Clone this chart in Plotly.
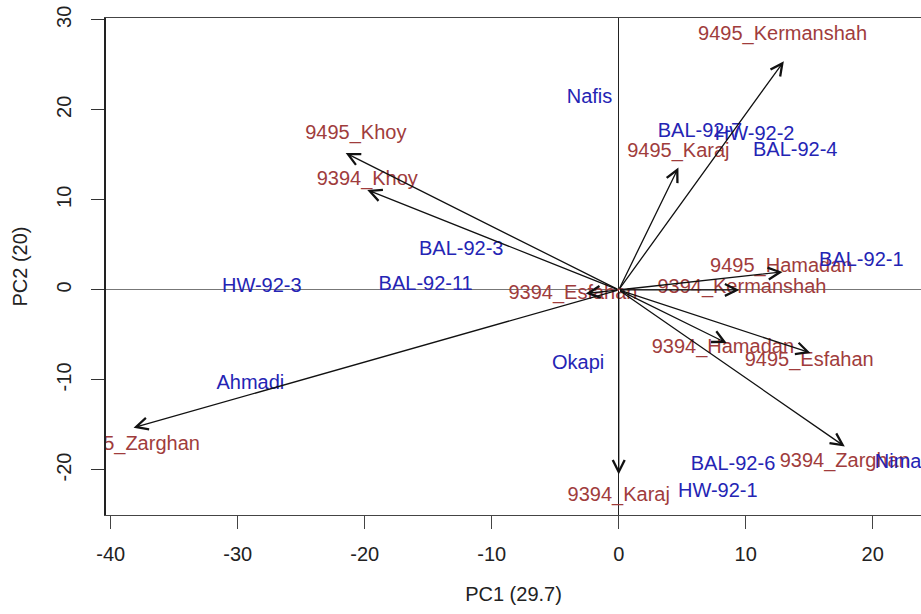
import plotly.graph_objects as go

# Environment vectors (arrow tips) and their label positions
env_names = ["9495_Kermanshah", "9495_Karaj", "9495_Khoy", "9394_Khoy", "9495_Zarghan",
             "9394_Karaj", "9394_Zarghan", "9495_Esfahan", "9394_Hamadan", "9495_Hamadan",
             "9394_Kermanshah", "9394_Esfahan"]
env_x = [13.0, 4.7, -21.5, -19.8, -38.2, 0.0, 17.8, 15.1, 8.5, 12.9, 9.5, -2.6]
env_y = [25.4, 13.6, 15.2, 11.1, -15.3, -20.5, -17.4, -7.0, -5.9, 2.0, 0.0, -0.4]
env_lab_x = [12.9, 4.7, -20.7, -19.8, -38.1, 0.0, 17.8, 15.0, 8.2, 12.8, 9.7, -3.6]
env_lab_y = [28.3, 15.3, 17.3, 12.2, -17.2, -22.9, -19.1, -7.9, -6.5, 2.5, 0.2, -0.5]

# Genotype scores
gen_names = ["Nafis", "BAL-92-7", "HW-92-2", "BAL-92-4", "BAL-92-3", "BAL-92-11", "HW-92-3",
             "Ahmadi", "Okapi", "BAL-92-6", "HW-92-1", "Nima", "BAL-92-1"]
gen_x = [-2.3, 6.4, 10.7, 13.9, -12.4, -15.2, -28.1, -29.0, -3.2, 9.0, 7.8, 22.0, 19.1]
gen_y = [21.3, 17.5, 17.2, 15.4, 4.4, 0.6, 0.3, -10.5, -8.2, -19.5, -22.5, -19.2, 3.2]

x_ticks = [-40, -30, -20, -10, 0, 10, 20]
x_tick_labels = ["-40", "-30", "-20", "-10", "0", "10", "20"]
y_ticks = [-20, -10, 0, 10, 20, 30]
y_tick_labels = ["-20", "-10", "0", "10", "20", "30"]

FONT = "Liberation Sans, Arial, sans-serif"
RED = "#A03C3C"
BLUE = "#2424B4"
FS = 20

fig = go.Figure()

fig.add_trace(go.Scatter(
    x=env_lab_x, y=env_lab_y, text=env_names, mode="text",
    textposition="middle center", cliponaxis=True,
    textfont=dict(family=FONT, size=FS, color=RED), hoverinfo="skip", showlegend=False))

fig.add_trace(go.Scatter(
    x=gen_x, y=gen_y, text=gen_names, mode="text",
    textposition="middle center", cliponaxis=True,
    textfont=dict(family=FONT, size=FS, color=BLUE), hoverinfo="skip", showlegend=False))

for ex, ey in zip(env_x, env_y):
    fig.add_annotation(x=ex, y=ey, ax=0, ay=0, xref="x", yref="y", axref="x", ayref="y",
                       text="", showarrow=True, arrowhead=5, arrowsize=1.8, arrowwidth=1.3,
                       arrowcolor="#111111", standoff=0, startstandoff=0)

fig.update_layout(
    width=921, height=614,
    margin=dict(l=106, r=0, t=17.5, b=99),
    paper_bgcolor="white", plot_bgcolor="white",
    font=dict(family=FONT, size=FS, color="#222222"),
    xaxis=dict(range=[-40.37, 23.8], tickvals=x_ticks, ticktext=x_tick_labels,
               ticks="outside", ticklen=13,
               tickcolor="#444", showgrid=False, zeroline=True, zerolinecolor="#222",
               zerolinewidth=1.3, showline=True, linecolor="#444", linewidth=1.3, mirror=True,
               title=dict(text="PC1 (29.7)", standoff=22, font=dict(size=FS)),
               tickfont=dict(size=FS, color="#222"), ticklabelstandoff=8),
    yaxis=dict(range=[-25.0, 30.2], tickvals=y_ticks, ticktext=y_tick_labels,
               ticks="outside", ticklen=13,
               tickcolor="#333", showgrid=False, zeroline=True, zerolinecolor="#777",
               zerolinewidth=1.2, showline=True, linecolor="#222", linewidth=1.5,
               tickangle=-90, tickfont=dict(size=FS, color="#222"), ticklabelstandoff=12,
               title=dict(text="PC2 (20)", standoff=20, font=dict(size=FS))),
)

fig.write_html("out.html")
